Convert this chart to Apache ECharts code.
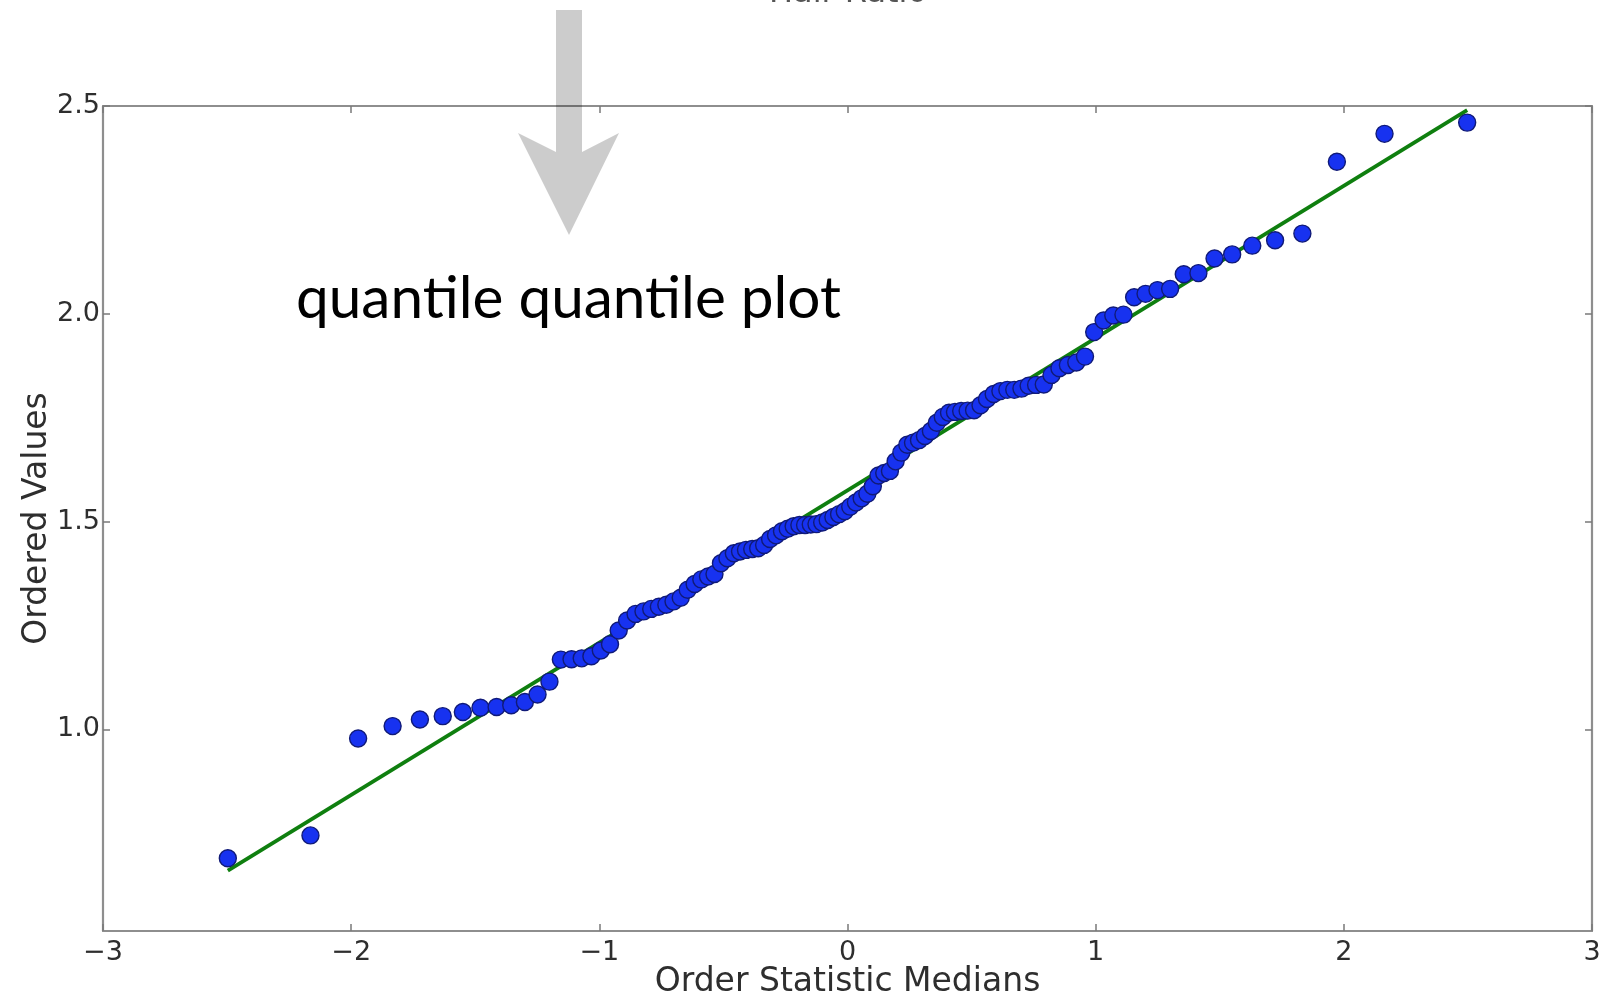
<!DOCTYPE html>
<html>
<head>
<meta charset="utf-8">
<title>Ordered Values – quantile quantile plot</title>
<script src="https://cdn.jsdelivr.net/npm/echarts@6/dist/echarts.min.js"></script>
<style>
  html, body { margin: 0; padding: 0; background: #ffffff; }
  #chart { width: 1624px; height: 1004px; }
</style>
</head>
<body>
<div id="chart"></div>
<script>
// Theoretical order statistic medians (x) for the 110 sorted samples
const medians = [
  -2.497, -2.164, -1.972, -1.833, -1.723, -1.631, -1.550, -1.479, -1.414, -1.355,
  -1.300, -1.249, -1.201, -1.155, -1.112, -1.071, -1.032, -0.994, -0.957, -0.922,
  -0.888, -0.854, -0.822, -0.791, -0.760, -0.730, -0.701, -0.672, -0.644, -0.616,
  -0.589, -0.562, -0.536, -0.510, -0.484, -0.458, -0.433, -0.409, -0.384, -0.360,
  -0.336, -0.312, -0.288, -0.264, -0.241, -0.217, -0.194, -0.171, -0.148, -0.125,
  -0.102, -0.080, -0.057, -0.034, -0.011,
   0.011,  0.034,  0.057,  0.080,  0.102,  0.125,  0.148,  0.171,  0.194,  0.217,
   0.241,  0.264,  0.288,  0.312,  0.336,  0.360,  0.384,  0.409,  0.433,  0.458,
   0.484,  0.510,  0.536,  0.562,  0.589,  0.616,  0.644,  0.672,  0.701,  0.730,
   0.760,  0.791,  0.822,  0.854,  0.888,  0.922,  0.957,  0.994,  1.032,  1.071,
   1.112,  1.155,  1.201,  1.249,  1.300,  1.355,  1.414,  1.479,  1.550,  1.631,
   1.723,  1.833,  1.972,  2.164,  2.497
];

// Sorted sample values (y)
const orderedValues = [
  0.690, 0.745, 0.978, 1.008, 1.024, 1.032, 1.042, 1.052, 1.054, 1.058,
  1.066, 1.084, 1.115, 1.168, 1.169, 1.171, 1.176, 1.190, 1.205, 1.238,
  1.262, 1.278, 1.284, 1.290, 1.295, 1.300, 1.308, 1.317, 1.336, 1.350,
  1.361, 1.368, 1.374, 1.400, 1.412, 1.424, 1.428, 1.432, 1.434, 1.436,
  1.444, 1.458, 1.467, 1.477, 1.483, 1.489, 1.492, 1.492, 1.493, 1.494,
  1.498, 1.504, 1.511, 1.518, 1.525,
  1.536, 1.546, 1.556, 1.567, 1.585, 1.611, 1.617, 1.622, 1.645, 1.666,
  1.685, 1.690, 1.696, 1.706, 1.718, 1.738, 1.752, 1.762, 1.764, 1.766,
  1.767, 1.768, 1.780, 1.795, 1.807, 1.814, 1.817, 1.817, 1.820, 1.827,
  1.829, 1.830, 1.853, 1.869, 1.877, 1.883, 1.897, 1.956, 1.984, 1.996,
  1.998, 2.040, 2.048, 2.057, 2.060, 2.095, 2.098, 2.133, 2.143, 2.164,
  2.177, 2.193, 2.366, 2.433, 2.460
];

// Least-squares reference line, evaluated at the first and last median
const fitX = [-2.497, 2.497];
const fitY = [0.660, 2.490];

// Axis ranges and tick positions
const xRange = [-3, 3];
const yRange = [0.515, 2.5];
const xTicks = [-3, -2, -1, 0, 1, 2, 3];
const yTicks = [1.0, 1.5, 2.0, 2.5];

const chart = echarts.init(document.getElementById('chart'), null, { renderer: 'canvas' });

const frameLine = { show: true, onZero: false, lineStyle: { color: '#8e8e8e', width: 2.2 } };
const tickStyle = { show: true, inside: true, length: 7, lineStyle: { color: '#7a7a7a', width: 1.5 } };
const labelFont = { fontFamily: 'DejaVu Sans', fontSize: 27, color: '#2e2e2e' };
const nameFont = { fontFamily: 'DejaVu Sans', fontSize: 33, color: '#2e2e2e' };
const fmtX = v => (v < 0 ? '\u2212' + Math.abs(v) : String(v));

const scatterData = medians.map((x, i) => [x, orderedValues[i]]);
const lineData = fitX.map((x, i) => [x, fitY[i]]);

chart.setOption({
  backgroundColor: '#ffffff',
  animation: false,
  grid: { left: 103, right: 32, top: 106, bottom: 66, containLabel: false },
  xAxis: [
    {
      type: 'value', position: 'bottom', min: xRange[0], max: xRange[1],
      axisLine: frameLine,
      axisTick: Object.assign({}, tickStyle, { customValues: xTicks }),
      axisLabel: Object.assign({}, labelFont, { customValues: xTicks, margin: 8, formatter: fmtX }),
      splitLine: { show: false },
      name: 'Order Statistic Medians', nameLocation: 'middle', nameGap: 35,
      nameMoveOverlap: false, nameTextStyle: nameFont
    },
    {
      type: 'value', position: 'top', min: xRange[0], max: xRange[1],
      axisLine: frameLine,
      axisTick: Object.assign({}, tickStyle, { customValues: xTicks }),
      axisLabel: { show: false },
      splitLine: { show: false }
    }
  ],
  yAxis: [
    {
      type: 'value', position: 'left', min: yRange[0], max: yRange[1],
      axisLine: frameLine,
      axisTick: Object.assign({}, tickStyle, { customValues: yTicks }),
      axisLabel: Object.assign({}, labelFont, { customValues: yTicks, margin: 3, formatter: v => v.toFixed(1) }),
      splitLine: { show: false },
      name: 'Ordered Values', nameLocation: 'middle', nameGap: 49, nameRotate: 90,
      nameMoveOverlap: false, nameTextStyle: nameFont
    },
    {
      type: 'value', position: 'right', min: yRange[0], max: yRange[1],
      axisLine: frameLine,
      axisTick: Object.assign({}, tickStyle, { customValues: yTicks }),
      axisLabel: { show: false },
      splitLine: { show: false }
    }
  ],
  series: [
    {
      type: 'line', name: 'fit', data: lineData, xAxisIndex: 0, yAxisIndex: 0,
      showSymbol: false, symbol: 'none', z: 2,
      lineStyle: { color: '#0f7f0f', width: 3.8 }
    },
    {
      type: 'scatter', name: 'samples', data: scatterData, xAxisIndex: 0, yAxisIndex: 0,
      symbol: 'circle', symbolSize: 17, z: 3,
      itemStyle: { color: '#1732f0', borderColor: '#101a78', borderWidth: 1.4, opacity: 1 }
    }
  ],
  graphic: [
    // chart title, mostly above the page edge
    {
      type: 'text', x: 848, y: 10, z: 10,
      style: { text: 'Hair Ratio', fontFamily: 'DejaVu Sans', fontSize: 32, fill: '#555555', align: 'center', verticalAlign: 'bottom' }
    },
    // annotation arrow pointing at the plot
    {
      type: 'polygon', z: 20,
      shape: { points: [[556, 10], [582, 10], [582, 152], [619, 133], [569, 235], [518, 133], [556, 152]] },
      style: { fill: 'rgba(0,0,0,0.2)' }
    },
    {
      type: 'text', z: 20, x: 296, y: 270,
      style: {
        text: 'quantile quantile plot', fontFamily: 'Lato', fontSize: 58.5,
        fill: '#000000', verticalAlign: 'top'
      }
    }
  ]
});
</script>
</body>
</html>
